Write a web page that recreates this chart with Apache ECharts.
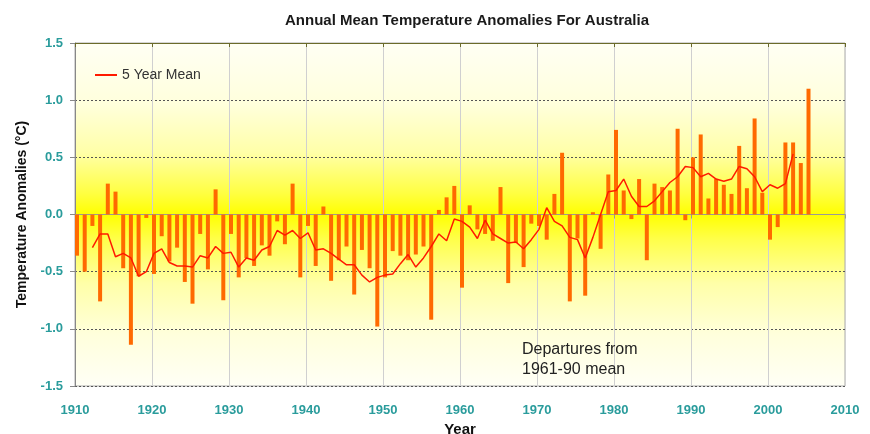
<!DOCTYPE html>
<html>
<head>
<meta charset="utf-8">
<script src="https://cdn.jsdelivr.net/npm/echarts@6/dist/echarts.min.js"></script>
<style>html,body{margin:0;padding:0;background:#fff}#c{width:870px;height:434px}</style>
</head>
<body>
<div id="c"></div>
<script>
const titleText = 'Annual Mean Temperature Anomalies For Australia';
const xAxisName = 'Year';
const yAxisName = 'Temperature Anomalies (°C)';
const lineName = '5 Year Mean';
const noteLines = ['Departures from', '1961-90 mean'];

const years = [];
for (let y = 1910; y <= 2005; y++) years.push(y);
const anomalies = [
  -0.36,-0.50,-0.10,-0.76,0.27,0.20,-0.47,-1.14,-0.54,-0.03,
  -0.52,-0.19,-0.41,-0.29,-0.59,-0.78,-0.17,-0.48,0.22,-0.75,
  -0.17,-0.55,-0.38,-0.45,-0.27,-0.36,-0.06,-0.26,0.27,-0.55,
  -0.10,-0.45,0.07,-0.58,-0.40,-0.28,-0.70,-0.31,-0.47,-0.98,
  -0.55,-0.32,-0.36,-0.40,-0.35,-0.28,-0.92,0.04,0.15,0.25,
  -0.64,0.08,-0.13,-0.17,-0.23,0.24,-0.60,-0.25,-0.46,-0.08,
  -0.10,-0.22,0.18,0.54,-0.76,-0.21,-0.71,0.02,-0.30,0.35,
  0.74,0.21,-0.04,0.31,-0.40,0.27,0.24,0.21,0.75,-0.05,
  0.50,0.70,0.14,0.31,0.26,0.18,0.60,0.23,0.84,0.19,
  -0.22,-0.11,0.63,0.63,0.45,1.10
];

const meanYears = [];
for (let y = 1912; y <= 2003; y++) meanYears.push(y);
const meanValues = [
  -0.29,-0.17,-0.17,-0.37,-0.34,-0.38,-0.54,-0.50,
  -0.34,-0.30,-0.42,-0.45,-0.45,-0.46,-0.36,-0.38,-0.28,-0.34,
  -0.33,-0.46,-0.38,-0.40,-0.31,-0.28,-0.14,-0.18,-0.14,-0.21,
  -0.16,-0.31,-0.30,-0.34,-0.39,-0.44,-0.44,-0.53,-0.59,-0.55,
  -0.53,-0.52,-0.43,-0.35,-0.46,-0.38,-0.28,-0.17,-0.23,-0.04,
  -0.06,-0.11,-0.21,-0.05,-0.17,-0.21,-0.25,-0.24,-0.30,-0.22,
  -0.13,0.06,-0.06,-0.10,-0.20,-0.22,-0.38,-0.20,0.00,0.20,
  0.21,0.31,0.16,0.07,0.07,0.12,0.20,0.28,0.33,0.42,
  0.41,0.33,0.36,0.31,0.29,0.31,0.42,0.40,0.33,0.20,
  0.26,0.23,0.27,0.53
];

const teal = '#2a9c9c';
const barShift = 0.26; // bars sit just right of each year tick
const chart = echarts.init(document.getElementById('c'), null, {renderer: 'canvas'});
chart.setOption({
  animation: false,
  backgroundColor: '#ffffff',
  title: {
    text: titleText, left: 462, top: 8, textAlign: 'center',
    textStyle: {fontFamily: 'Liberation Sans, Arial', fontSize: 15, fontWeight: 'bold', color: '#1a1a1a'}
  },
  legend: {
    data: [lineName], left: 90, top: 63, icon: 'rect', itemWidth: 22, itemHeight: 2, itemGap: 5,
    textStyle: {fontFamily: 'Liberation Sans, Arial', fontSize: 14, color: '#333'}
  },
  grid: {
    left: 75, right: 25, top: 43, bottom: 48, containLabel: false, outerBoundsMode: 'none',
    show: true, borderColor: '#aaaaaa', borderWidth: 1,
    backgroundColor: {
      type: 'linear', x: 0, y: 0, x2: 0, y2: 1,
      colorStops: [
        {offset: 0, color: '#fffff4'},
        {offset: 0.18, color: '#ffffdc'},
        {offset: 0.32, color: '#ffffa8'},
        {offset: 0.44, color: '#ffff40'},
        {offset: 0.5, color: '#ffff00'},
        {offset: 0.57, color: '#ffff48'},
        {offset: 0.7, color: '#ffffa8'},
        {offset: 0.85, color: '#ffffdc'},
        {offset: 1, color: '#fffff6'}
      ]
    }
  },
  xAxis: [{
    type: 'value', min: 1910, max: 2010, interval: 10,
    name: xAxisName, nameLocation: 'middle', nameGap: 33,
    nameTextStyle: {fontFamily: 'Liberation Sans, Arial', fontSize: 15, fontWeight: 'bold', color: '#111'},
    axisLine: {show: true, lineStyle: {color: '#999'}},
    axisTick: {show: true, length: 4, lineStyle: {color: '#999'}},
    axisLabel: {margin: 18, color: teal, fontFamily: 'Liberation Sans, Arial', fontSize: 13, fontWeight: 'bold', formatter: v => String(v)},
    splitLine: {show: true, lineStyle: {color: '#d0d0d0', width: 1}}
  }, {
    type: 'value', min: 1910, max: 2010, interval: 10, position: 'top',
    axisLine: {show: true, onZero: true, lineStyle: {color: '#6b6b2a', width: 1.2}},
    axisTick: {show: true, inside: true, length: 4, lineStyle: {color: '#6b6b2a'}},
    axisLabel: {show: false}, splitLine: {show: false}
  }],
  yAxis: {
    type: 'value', min: -1.5, max: 1.5, interval: 0.5,
    name: yAxisName, nameLocation: 'middle', nameGap: 46, nameRotate: 90,
    nameTextStyle: {fontFamily: 'Liberation Sans, Arial', fontSize: 14, fontWeight: 'bold', color: '#111'},
    axisLine: {show: true, lineStyle: {color: '#888'}},
    axisTick: {show: true, length: 5, lineStyle: {color: '#888'}},
    axisLabel: {margin: 12, color: teal, fontFamily: 'Liberation Sans, Arial', fontSize: 13, fontWeight: 'bold', formatter: v => v.toFixed(1)},
    splitLine: {show: true, lineStyle: {color: '#555', type: [2, 2], width: 1}}
  },
  graphic: [{
    type: 'text', left: 522, top: 340, z: 10,
    style: {text: noteLines.join('\n'), fontFamily: 'Liberation Sans, Arial', fontSize: 16, lineHeight: 20, fill: '#222'}
  }],
  series: [{
    type: 'bar', name: 'Anomaly', xAxisIndex: 0, barWidth: 4,
    itemStyle: {color: '#ff6a00'},
    data: years.map((y, i) => [y + barShift, anomalies[i]]),
    z: 2
  }, {
    type: 'line', name: lineName, xAxisIndex: 0, showSymbol: false, symbol: 'none',
    lineStyle: {color: '#ff1a00', width: 1.5}, itemStyle: {color: '#ff1a00'},
    data: meanYears.map((y, i) => [y + barShift, meanValues[i]]),
    z: 4
  }]
});
</script>
</body>
</html>
